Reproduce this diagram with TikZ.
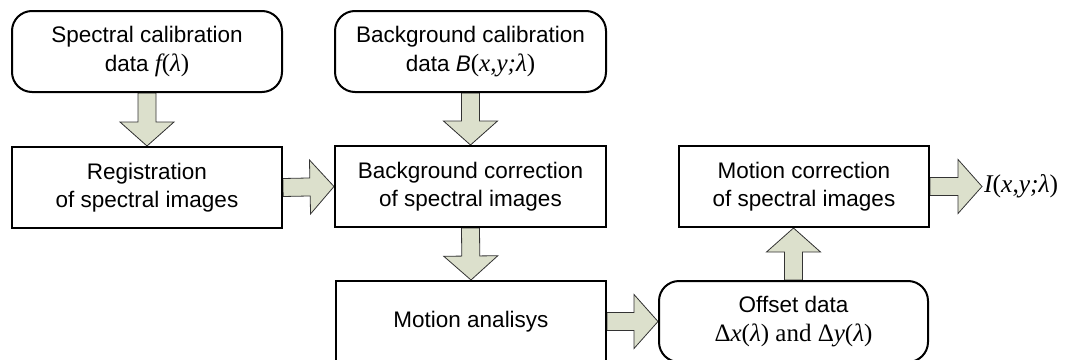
\documentclass[tikz,border=0pt]{standalone}
\usepackage{fontspec}
\setmainfont{Liberation Sans}
\newfontfamily\tnr{Liberation Serif}
\usetikzlibrary{calc,backgrounds}
\definecolor{arrowfill}{RGB}{220,224,204}
% serif pieces of the formulas, set a little larger than the sans text
\newcommand\tmsi[1]{{\fontsize{25}{28.5}\selectfont\tnr\itshape #1}}
\newcommand\tmsu[1]{{\fontsize{25}{28.5}\selectfont\tnr #1}}
\tikzset{
  box/.style={draw, line width=2pt, fill=white, inner sep=0pt, align=center,
    minimum height=81pt, font=\fontsize{22.5}{28.5}\selectfont},
  rbox/.style={box, rounded corners=20pt},
  blockarrow/.style={draw=black!80, line width=0.8pt, fill=arrowfill, line join=miter},
  outlabel/.style={inner sep=2pt, anchor=west, font=\fontsize{25.5}{30}\selectfont}
}
% thick block arrow from #1 to #2 (shaft half width 9, head half width 27, head length 24)
\newcommand\fatarrow[2]{%
  \coordinate (hb) at ($(#2)!24pt!(#1)$);
  \draw[blockarrow]
    ($(#1)!9pt!90:(#2)$) -- ($(hb)!9pt!-90:(#1)$) -- ($(hb)!27pt!-90:(#1)$)
    -- (#2) -- ($(hb)!27pt!90:(#1)$) -- ($(hb)!9pt!90:(#1)$)
    -- ($(#1)!9pt!-90:(#2)$) -- cycle;}
\begin{document}
\begin{tikzpicture}[x=1pt,y=-1pt]
  \useasboundingbox (0,0) rectangle (1066,359);
  \clip (0,0) rectangle (1066,359);

  \node[rbox, minimum width=270pt] (spec) at (147,51.5)
    {Spectral calibration\\data \tmsi{f}\tmsu{(}\tmsi{λ}\tmsu{)}};
  \node[rbox, minimum width=271pt] (bgcal) at (470.5,51.5)
    {Background calibration\\data {\itshape B}\tmsu{(}\tmsi{x}\tmsu{,}\tmsi{y;λ}\tmsu{)}};
  \node[box, minimum width=270pt] (reg) at (147,187.5)
    {Registration\\of spectral images};
  \node[box, minimum width=271pt] (bgcor) at (470.5,186.5)
    {Background correction\\of spectral images};
  \node[box, minimum width=250pt] (mcor) at (804,186.5)
    {Motion correction\\of spectral images};
  \node[box, minimum width=270pt] (man) at (471,321.5)
    {Motion analisys};
  \node[rbox, minimum width=269pt] (off) at (793.5,321.5)
    {Offset data\\{\fontsize{25}{30}\selectfont\tnr Δ\tmsi{x}(\tmsi{λ}) and Δ\tmsi{y}(\tmsi{λ})}};
  \node[outlabel] (out) at (982,186.5)
    {\tnr\itshape I\upshape(\itshape x\upshape,\itshape y;λ\upshape)};

  \coordinate (upend) at (off.north |- mcor.south);

  \begin{scope}[on background layer]
    \fatarrow{spec.south}{reg.north}
    \fatarrow{bgcal.south}{bgcor.north}
    \fatarrow{reg.east}{bgcor.west}
    \fatarrow{bgcor.south}{man.north}
    \fatarrow{man.east}{off.west}
    \fatarrow{off.north}{upend}
    \fatarrow{mcor.east}{out.west}
  \end{scope}
\end{tikzpicture}
\end{document}
